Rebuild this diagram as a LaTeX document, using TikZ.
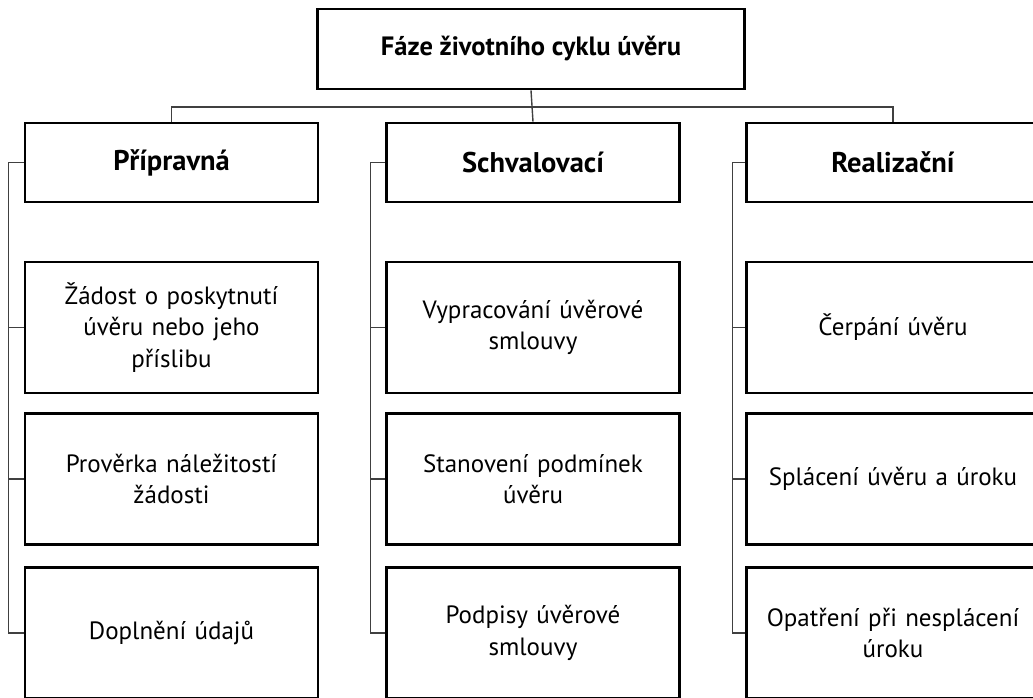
\documentclass[tikz,border=0pt]{standalone}
\usepackage{fontspec}
\setmainfont{PT Sans}
\begin{document}
\begin{tikzpicture}[x=1pt,y=-1pt,
  box/.style={draw=black,line width=2.6pt,fill=white,align=center,inner sep=0pt,
    font=\fontsize{25}{31.7}\selectfont},
  hbox/.style={box,minimum height=79pt,font=\fontsize{28.5}{32}\selectfont\bfseries},
  lbox/.style={box,minimum height=131pt,minimum width=293pt,text width=285pt},
  conn/.style={draw=black!75,line width=1.4pt}]
\useasboundingbox (0,0) rectangle (1033,697);
\clip (0,0) rectangle (1033,697);
\node[hbox,minimum width=427pt,minimum height=80pt,font=\fontsize{26.5}{32}\selectfont\bfseries] (top) at (531,49) {Fáze životního cyklu úvěru};
\node[hbox,minimum width=293pt] (p) at (171.5,162.5) {Přípravná};
\node[hbox,minimum width=293pt] (s) at (533,162.5) {Schvalovací};
\node[hbox,minimum width=293pt] (r) at (893,162.5) {Realizační};
\node[lbox] (p1) at (171.5,327.5) {Žádost o poskytnutí\\úvěru nebo jeho\\příslibu};
\node[lbox] (p2) at (171.5,479) {Prověrka náležitostí\\žádosti};
\node[lbox] (p3) at (171.5,633) {Doplnění údajů};
\node[lbox] (s1) at (533,327.5) {Vypracování úvěrové\\smlouvy};
\node[lbox] (s2) at (533,479) {Stanovení podmínek\\úvěru};
\node[lbox] (s3) at (533,633) {Podpisy úvěrové\\smlouvy};
\node[lbox] (r1) at (893,327.5) {Čerpání úvěru};
\node[lbox] (r2) at (893,479) {Splácení úvěru a úroku};
\node[lbox] (r3) at (893,633) {Opatření při nesplácení\\úroku};
\coordinate (bus) at (533,107);
\draw[conn] (top.south) -- (s.north);
\draw[conn] (p.north) |- (bus) -| (r.north);
\foreach \c/\d in {p/15.5,s/15,r/13}{
  \coordinate (\c c) at ([xshift=-\d pt]\c.west);
  \draw[conn] (\c.west) -- (\c c) |- (\c3.west);
  \draw[conn] (\c c) |- (\c1.west);
  \draw[conn] (\c c) |- (\c2.west);
}
\end{tikzpicture}
\end{document}
